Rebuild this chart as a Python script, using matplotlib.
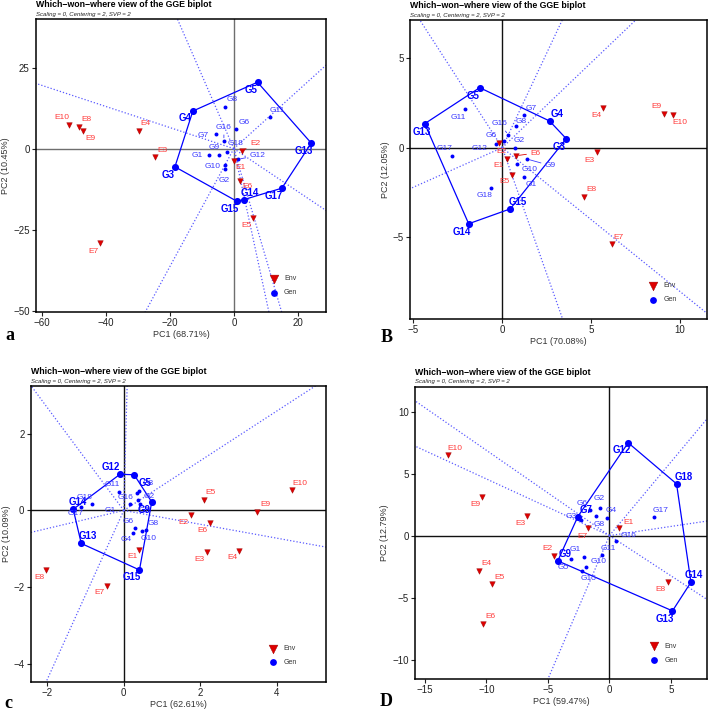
import numpy as np
import matplotlib
matplotlib.use("Agg")
import matplotlib.pyplot as plt

plt.rcParams['font.family'] = ['Liberation Sans', 'DejaVu Sans']

GEN = ["G1", "G2", "G3", "G4", "G5", "G6", "G7", "G8", "G9", "G10",
       "G11", "G12", "G13", "G14", "G15", "G16", "G17", "G18"]
ENV = ["E1", "E2", "E3", "E4", "E5", "E6", "E7", "E8", "E9", "E10"]

# ---- panel a ----
A_GX = [-7.9, -2.7, -18.4, -12.8, 7.4, 0.7, -5.5, -2.6, -4.6, -2.7,
        11.3, 1.25, 24.2, 3.2, 0.9, -3.1, 15.0, -2.1]
A_GY = [-1.9, -6.4, -5.6, 11.6, 20.5, 6.0, 4.5, 12.9, -1.9, -5.1,
        9.7, -3.3, 1.7, -15.7, -16.2, 2.5, -12.2, -1.1]
A_EX = [0.2, 2.6, -24.6, -29.7, 6.1, 2.0, -41.8, -48.3, -47.1, -51.6]
A_EY = [-3.8, -0.7, -2.7, 5.5, -21.5, -9.9, -29.2, 6.7, 5.5, 7.4]
A_HULL = ["G5", "G13", "G17", "G14", "G15", "G3", "G4"]
A_PC = ["PC1 (68.71%)", "PC2 (10.45%)"]

# ---- panel B ----
B_GX = [1.25, 0.70, 3.6, 2.66, -1.27, 0.08, 1.24, 0.75, 1.37, 0.84,
        -2.08, -0.37, -4.36, -1.89, 0.45, 0.34, -2.84, -0.62]
B_GY = [-1.64, -0.02, 0.5, 1.49, 3.35, 0.36, 1.81, 1.23, -0.63, -0.91,
        2.14, 0.21, 1.34, -4.25, -3.42, 0.71, -0.46, -2.23]
B_EX = [0.26, -0.17, 5.34, 5.64, 0.53, 0.79, 6.15, 4.57, 9.07, 9.59]
B_EY = [-0.61, 0.25, -0.26, 2.22, -1.54, -0.45, -5.38, -2.74, 1.9, 1.83]
B_HULL = ["G5", "G4", "G3", "G15", "G14", "G13"]
B_PC = ["PC1 (70.08%)", "PC2 (12.05%)"]

# ---- panel c ----
C_GX = [0.37, 0.43, 0.41, 0.23, 0.27, 0.29, 0.34, 0.57, 0.73, 0.47,
        -0.12, -0.10, -1.11, -1.32, 0.41, 0.16, -1.11, -0.84]
C_GY = [0.27, 0.18, 0.51, -0.58, 0.93, -0.47, 0.46, -0.51, 0.22, -0.53,
        0.48, 0.94, -0.86, 0.03, -1.55, 0.18, 0.09, 0.18]
C_EX = [0.41, 1.75, 2.17, 3.02, 2.10, 2.24, -0.44, -2.03, 3.48, 4.40]
C_EY = [-1.03, -0.12, -1.08, -1.05, 0.27, -0.32, -1.97, -1.55, -0.04, 0.52]
C_HULL = ["G12", "G5", "G9", "G15", "G13", "G14"]
C_PC = ["PC1 (62.61%)", "PC2 (10.09%)"]

# ---- panel D ----
D_GX = [-2.03, -0.78, -2.33, -0.21, -3.14, -1.59, -2.57, -1.06, -4.2, -1.89,
        -0.57, 1.52, 5.12, 6.62, -2.24, 0.54, 3.58, 5.45]
D_GY = [-1.74, 2.23, 1.24, 1.43, -1.9, 2.05, 1.53, 1.59, -2.04, -2.52,
        -1.56, 7.48, -6.07, -3.76, -2.87, -0.43, 1.46, 4.17]
D_EX = [0.79, -4.5, -6.69, -10.57, -9.54, -10.27, -1.71, 4.72, -10.35, -13.14]
D_EY = [0.65, -1.61, 1.59, -2.82, -3.92, -7.12, 0.65, -3.76, 3.12, 6.48]
D_HULL = ["G12", "G18", "G14", "G13", "G9", "G7"]
D_PC = ["PC1 (59.47%)", "PC2 (12.79%)"]

# label offsets in pixels (dx, dy up)
A_GOFF = {"G1": (-11.7, -0.7), "G2": (-1.3, -10.7), "G3": (-7, -7.7), "G4": (-7.7, -7.3),
          "G5": (-6.7, -7.7), "G6": (8, 6.7), "G7": (-12.7, -1.3), "G8": (7, 7),
          "G9": (-5, 7), "G10": (-13, -1.3), "G11": (7.3, 6.7), "G12": (20, 4),
          "G13": (-7, -8.3), "G14": (6, 6.3), "G15": (-6.7, -7.7), "G16": (0, 13.3),
          "G17": (-7.7, -7.7), "G18": (8, 8.3)}
A_EOFF = {"E1": (6.3, -6.7), "E2": (13, 7.7), "E3": (7.3, 6.7), "E4": (7, 7),
          "E5": (-6.7, -7.3), "E6": (7.7, -6), "E7": (-6.7, -7.7), "E8": (7.7, 7),
          "E9": (7, -7.3), "E10": (-6.7, 6.7)}
B_GOFF = {"G1": (7, -7), "G2": (4.3, 7.7), "G3": (-6.7, -8), "G4": (7.7, 7),
          "G5": (-7, -8.3), "G6": (-12, 5.3), "G7": (7.3, 7), "G8": (5.7, 4),
          "G9": (24, -6.7), "G10": (12.7, -6), "G11": (-7.3, -7.7), "G12": (-15.7, -5),
          "G13": (-2.7, -8), "G14": (-7, -8), "G15": (7.7, 7), "G16": (-8.3, 11.3),
          "G17": (-7, 7), "G18": (-6.7, -8)}
B_EOFF = {"E1": (-8.7, -7.3), "E2": (1.7, -8.3), "E3": (-7.3, -7.7), "E4": (-6.3, -7.7),
          "E5": (-7.3, -6.7), "E6": (19.3, 2.7), "E7": (7.3, 6.7), "E8": (7.7, 7.3),
          "E9": (-7, 7), "E10": (7, -7.7)}
C_GOFF = {"G1": (-27.7, -10), "G2": (9, 7.3), "G3": (8.3, 7.3), "G4": (-6, -7.3),
          "G5": (11, -8.3), "G6": (-6.7, 7.3), "G7": (7.7, -17.3), "G8": (7.7, 6.7),
          "G9": (-7.3, -8.3), "G10": (6.7, -7.7), "G11": (-7.3, 7.7), "G12": (-9, 7),
          "G13": (6.7, 7.3), "G14": (5, 7.3), "G15": (-7.7, -7.3), "G16": (-4, 5.7),
          "G17": (-6, -6.7), "G18": (-6.7, 6)}
C_EOFF = {"E1": (-7.3, -6.7), "E2": (-7.3, -7), "E3": (-7.3, -7.3), "E4": (-6.7, -7),
          "E5": (6.7, 7.3), "E6": (-7, -7.3), "E7": (-7.3, -6.7), "E8": (-6.7, -7.3),
          "E9": (8, 7.3), "E10": (7.7, 7.3)}
D_GOFF = {"G1": (-9.3, 7.3), "G2": (-0.7, 9.3), "G3": (-10, 4), "G4": (4, 7),
          "G5": (-7.3, -8), "G6": (-8, 7), "G7": (8, 6.7), "G8": (2.7, -9),
          "G9": (7.3, 6.7), "G10": (12.3, 5.3), "G11": (6, 6.7), "G12": (-6.7, -7.3),
          "G13": (-7.3, -7.7), "G14": (3.3, 7.3), "G15": (6.7, -7.7), "G16": (12.3, 5),
          "G17": (6.7, 7), "G18": (7.7, 7)}
D_EOFF = {"E1": (9.3, 5), "E2": (-6.7, 7.3), "E3": (-6.3, -7.3), "E4": (7.3, 7.3),
          "E5": (7.3, 7), "E6": (7, 7.3), "E7": (-5.7, -9), "E8": (-7.3, -7.7),
          "E9": (-6.7, -7.3), "E10": (7.3, 7)}

BLUE = "#0000ff"
GLAB = "#3a3aff"
RED = "#dd0000"
ELAB = "#ff3b3b"
W, H = 708, 712


def rect(l, r, t, b):
    return [l / W, 1 - b / H, (r - l) / W, (b - t) / H]


def panel(ax, gx, gy, ex, ey, hull, goff, eoff, pcs, xlim, ylim, xt, yt,
          zcol, segs):
    gx = np.array(gx); gy = np.array(gy)
    idx = {g: i for i, g in enumerate(GEN)}
    ax.axhline(0, color=zcol, lw=1.0, zorder=1)
    ax.axvline(0, color=zcol, lw=1.0, zorder=1)
    # sector rays perpendicular to each hull edge
    hp = np.array([[gx[idx[g]], gy[idx[g]]] for g in hull])
    L = 10 * max(abs(np.array(xlim)).max(), abs(np.array(ylim)).max())
    for k in range(len(hp)):
        p1 = hp[k]; p2 = hp[(k + 1) % len(hp)]
        d = p2 - p1
        t = -(p1 @ d) / (d @ d)
        f = p1 + t * d
        f = f / np.hypot(*f)
        ax.plot([0, f[0] * L], [0, f[1] * L], ls=(0, (1, 1.6)), color="#5a5aff",
                lw=0.9, zorder=2)
    hc = np.vstack([hp, hp[:1]])
    ax.plot(hc[:, 0], hc[:, 1], color=BLUE, lw=0.9, zorder=3)
    ish = np.array([g in hull for g in GEN])
    ax.scatter(gx[~ish], gy[~ish], s=8, color=BLUE, zorder=4, lw=0)
    ax.scatter(gx[ish], gy[ish], s=26, color=BLUE, zorder=4, lw=0)
    ax.scatter(ex, ey, marker="v", s=16, color=RED, edgecolor="#990000",
               lw=0.3, zorder=4)
    for i, g in enumerate(GEN):
        dx, dy = goff[g]
        kw = dict(arrowprops=dict(arrowstyle="-", color=GLAB, lw=0.6,
                                  shrinkA=1, shrinkB=2)) if g in segs else {}
        ax.annotate(g, (gx[i], gy[i]), xytext=(dx, dy), textcoords="offset pixels",
                    ha="center", va="center", color=BLUE if g in hull else GLAB,
                    fontsize=7 if g in hull else 6,
                    fontweight="bold" if g in hull else "normal", zorder=5, **kw)
    for i, e in enumerate(ENV):
        dx, dy = eoff[e]
        kw = dict(arrowprops=dict(arrowstyle="-", color=RED, lw=0.6,
                                  shrinkA=1, shrinkB=2)) if e in segs else {}
        ax.annotate(e, (ex[i], ey[i]), xytext=(dx, dy), textcoords="offset pixels",
                    ha="center", va="center", color=ELAB, fontsize=6, zorder=5, **kw)
    ax.set_xlim(xlim); ax.set_ylim(ylim)
    ax.set_xticks(xt); ax.set_yticks(yt)
    ax.tick_params(labelsize=7, length=3, width=0.8, pad=1.5, colors="#222222")
    for s in ax.spines.values():
        s.set_linewidth(1.1)
    ax.set_xlabel(pcs[0], fontsize=6.5, color="#333333", labelpad=1.5)
    ax.set_ylabel(pcs[1], fontsize=6.5, color="#333333", labelpad=2)
    # legend drawn by hand in axes coordinates
    ax.scatter([0.82], [0.112], transform=ax.transAxes, marker="v", s=40,
               color=RED, edgecolor="#990000", lw=0.3, clip_on=False, zorder=6)
    ax.scatter([0.82], [0.065], transform=ax.transAxes, marker="o", s=24,
               color=BLUE, lw=0, clip_on=False, zorder=6)
    ax.text(0.855, 0.112, "Env", transform=ax.transAxes, fontsize=5,
            va="center", color="#333333")
    ax.text(0.855, 0.065, "Gen", transform=ax.transAxes, fontsize=5,
            va="center", color="#333333")
    ax.annotate("Which\u2212won\u2212where view of the GGE biplot", (0, 1),
                xycoords="axes fraction", xytext=(0, 14.5),
                textcoords="offset pixels", fontsize=6.3, fontweight="bold",
                va="center", ha="left")
    ax.annotate("Scaling = 0, Centering = 2, SVP = 2", (0, 1),
                xycoords="axes fraction", xytext=(0, 4.8),
                textcoords="offset pixels", fontsize=4.3, style="italic",
                va="center", ha="left", color="#222222")


fig = plt.figure(figsize=(W / 100, H / 100), dpi=100)
axa = fig.add_axes(rect(36, 326, 19, 311.7))
axb = fig.add_axes(rect(410, 706.7, 20, 319))
axc = fig.add_axes(rect(30.7, 326, 386, 681.7))
axd = fig.add_axes(rect(415, 706.7, 386.7, 679))

panel(axa, A_GX, A_GY, A_EX, A_EY, A_HULL, A_GOFF, A_EOFF, A_PC,
      (-61.8, 28.8), (-50.3, 40.0), [-60, -40, -20, 0, 20], [-50, -25, 0, 25],
      "#6e6e6e", {"G16", "G12", "E2"})
panel(axb, B_GX, B_GY, B_EX, B_EY, B_HULL, B_GOFF, B_EOFF, B_PC,
      (-5.19, 11.5), (-9.57, 7.13), [-5, 0, 5, 10], [-5, 0, 5],
      "#111111", {"G16", "E6", "G9"})
panel(axc, C_GX, C_GY, C_EX, C_EY, C_HULL, C_GOFF, C_EOFF, C_PC,
      (-2.43, 5.28), (-4.46, 3.24), [-2, 0, 2, 4], [-4, -2, 0, 2],
      "#111111", set())
panel(axd, D_GX, D_GY, D_EX, D_EY, D_HULL, D_GOFF, D_EOFF, D_PC,
      (-15.8, 7.9), (-11.56, 12.0), [-15, -10, -5, 0, 5], [-10, -5, 0, 5, 10],
      "#111111", set())

for lab, (px, py) in zip(["a", "B", "c", "D"],
                         [(10, 335), (387, 338), (8.5, 703), (386, 702)]):
    fig.text(px / W, 1 - py / H, lab, fontsize=13, fontweight="bold",
             family=["Liberation Serif", "DejaVu Serif"], ha="center", va="center")

fig.savefig("out.png", dpi=100)
